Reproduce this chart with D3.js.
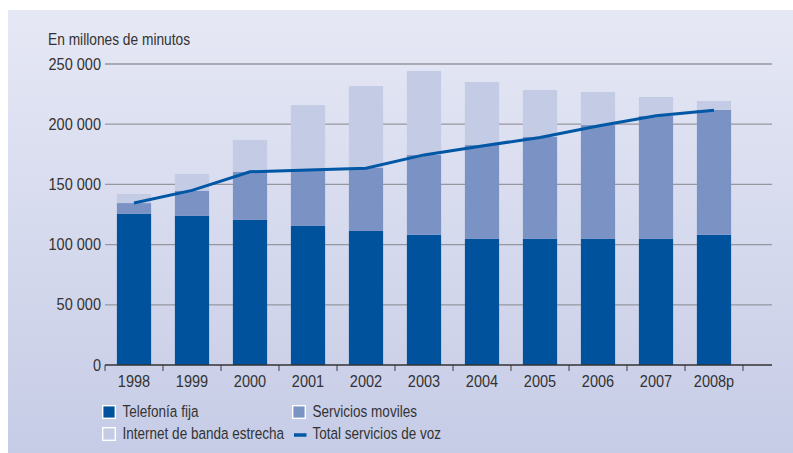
<!DOCTYPE html>
<html>
<head>
<meta charset="utf-8">
<script src="https://cdn.jsdelivr.net/npm/d3@7"></script>
<style>
  html, body { margin: 0; padding: 0; background: #fff; }
  svg { display: block; font-family: "Liberation Sans", Arial, sans-serif; }
</style>
</head>
<body>
<svg id="chart" width="793" height="453"></svg>
<script>
// Telefonía: minutos por servicio, 1998-2008p

const years = ["1998", "1999", "2000", "2001", "2002", "2003", "2004", "2005", "2006", "2007", "2008p"];
const telefoniaFija = [125500, 123800, 120500, 115500, 111300, 108200, 104700, 104700, 104700, 104700, 108200];
const serviciosMoviles = [9000, 21000, 39800, 47500, 52700, 66200, 78000, 84900, 94600, 102100, 103600];
const internetBanda = [7500, 13800, 26600, 52900, 67700, 69800, 52300, 38800, 27400, 15800, 7500];
const totalVoz = [134500, 145000, 160500, 162000, 163400, 174500, 181900, 189000, 198500, 207000, 211500];
const yTicks = [0, 50000, 100000, 150000, 200000, 250000];

const seriesNames = ["Telefonía fija", "Servicios moviles", "Internet de banda estrecha"];
const seriesColors = ["#00529c", "#7b93c4", "#c4cbe4"];
const lineColor = "#0057a5";

const svg = d3.select("#chart");
const fs = 16.5;

// condensed look: squeeze the regular sans horizontally
function narrow(sel, sx) {
  return sel.attr("transform", function () {
    const t = d3.select(this);
    const px = +t.attr("data-x"), py = +t.attr("data-y");
    return `translate(${px},${py}) scale(${sx},1)`;
  });
}

// --- Background panel ---
const defs = svg.append("defs");
const grad = defs.append("linearGradient")
  .attr("id", "bg").attr("x1", 0).attr("y1", 0).attr("x2", 0).attr("y2", 1);
grad.append("stop").attr("offset", "0%").attr("stop-color", "#e6e8f5");
grad.append("stop").attr("offset", "100%").attr("stop-color", "#c6cce6");
svg.append("rect")
  .attr("x", 8).attr("y", 10).attr("width", 785).attr("height", 443)
  .attr("fill", "url(#bg)");

// --- Scales ---
const plotLeft = 105, plotRight = 743, axisEnd = 772;
const x = d3.scaleBand().domain(years).range([plotLeft, plotRight]).paddingInner(0.41).paddingOuter(0.205);
const y = d3.scaleLinear().domain([0, 250000]).range([365, 64]);

// gridlines
svg.append("g").selectAll("line")
  .data(yTicks.filter(d => d > 0))
  .join("line")
  .attr("x1", plotLeft).attr("x2", axisEnd)
  .attr("y1", d => y(d)).attr("y2", d => y(d))
  .attr("stroke", "#96979f").attr("stroke-width", 1.3);

// y labels
const fmt = d => d === 0 ? "0" : d3.format(",")(d).replace(/,/g, " ");
svg.append("g").selectAll("text")
  .data(yTicks)
  .join("text")
  .attr("data-x", 101).attr("data-y", d => y(d) + 5.5)
  .attr("text-anchor", "end")
  .attr("font-size", fs).attr("fill", "#333")
  .text(fmt)
  .call(narrow, 0.88);

svg.append("text")
  .attr("data-x", 48).attr("data-y", 45)
  .attr("font-size", fs - 0.5).attr("fill", "#333")
  .text("En millones de minutos")
  .call(narrow, 0.86);

// --- Stacked bars ---
const rows = years.map((yr, i) => ({
  year: yr, fija: telefoniaFija[i], moviles: serviciosMoviles[i], internet: internetBanda[i]
}));
const stack = d3.stack().keys(["fija", "moviles", "internet"])(rows);

svg.append("g").selectAll("g")
  .data(stack)
  .join("g")
  .attr("fill", (d, i) => seriesColors[i])
  .selectAll("rect")
  .data(d => d)
  .join("rect")
  .attr("x", d => x(d.data.year))
  .attr("width", x.bandwidth())
  .attr("y", d => y(d[1]))
  .attr("height", d => y(d[0]) - y(d[1]));

// --- Total line ---
const line = d3.line()
  .x((d, i) => x(years[i]) + x.bandwidth() / 2)
  .y(d => y(d));
svg.append("path")
  .datum(totalVoz)
  .attr("d", line)
  .attr("fill", "none")
  .attr("stroke", lineColor)
  .attr("stroke-width", 3);

// --- X axis ---
const step = x.step();
const tickXs = d3.range(years.length + 1).map(i => plotLeft + i * step);
svg.append("g").selectAll("line")
  .data(tickXs)
  .join("line")
  .attr("x1", d => d).attr("x2", d => d)
  .attr("y1", 365).attr("y2", 371)
  .attr("stroke", "#555").attr("stroke-width", 1.2);
svg.append("line")
  .attr("x1", plotLeft).attr("x2", axisEnd)
  .attr("y1", 365).attr("y2", 365)
  .attr("stroke", "#333").attr("stroke-width", 1.5);

svg.append("g").selectAll("text")
  .data(years)
  .join("text")
  .attr("data-x", d => x(d) + x.bandwidth() / 2)
  .attr("data-y", 387)
  .attr("text-anchor", "middle")
  .attr("font-size", fs).attr("fill", "#333")
  .text(d => d)
  .call(narrow, 0.88);

// --- Legend ---
const legendItems = [
  { label: seriesNames[0], color: seriesColors[0], type: "box", lx: 102, ly: 405 },
  { label: seriesNames[1], color: seriesColors[1], type: "box", lx: 292, ly: 405 },
  { label: seriesNames[2], color: seriesColors[2], type: "box", lx: 102, ly: 427 },
  { label: "Total servicios de voz", color: lineColor, type: "line", lx: 292, ly: 427 }
];
const lg = svg.append("g").selectAll("g")
  .data(legendItems)
  .join("g")
  .attr("transform", d => `translate(${d.lx},${d.ly})`);
lg.filter(d => d.type === "box").append("rect")
  .attr("x", 0.7).attr("y", 0.7).attr("width", 12.6).attr("height", 12.6)
  .attr("fill", d => d.color).attr("stroke", "#fff").attr("stroke-width", 1.4);
lg.filter(d => d.type === "line").append("line")
  .attr("x1", 2).attr("x2", 14.5).attr("y1", 8).attr("y2", 8)
  .attr("stroke", d => d.color).attr("stroke-width", 3.5);
lg.append("text")
  .attr("data-x", 20.5).attr("data-y", 12)
  .attr("font-size", fs).attr("fill", "#333")
  .text(d => d.label)
  .call(narrow, 0.82);
</script>
</body>
</html>
